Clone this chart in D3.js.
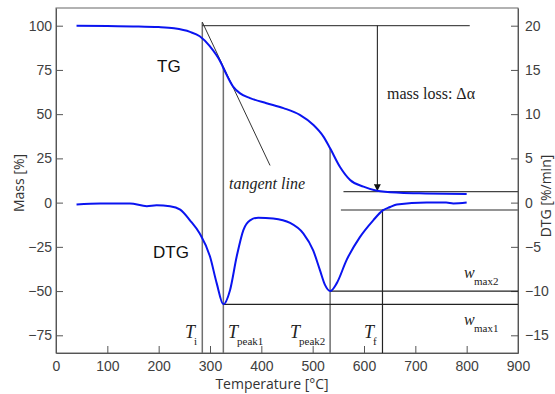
<!DOCTYPE html>
<html>
<head>
<meta charset="utf-8">
<script src="https://cdn.jsdelivr.net/npm/d3@7"></script>
<style>
  body { margin: 0; background: #fff; }
  svg { display: block; }
  .axis text { font-family: "Liberation Sans", Arial, sans-serif; font-size: 14px; fill: #404040; }
  .axis path, .axis line { stroke: #555; }
</style>
</head>
<body>
<svg id="chart"></svg>
<script>
// TG curve: temperature [°C] vs mass [%]
const tgTemp = [40, 100, 150, 200, 230, 261, 280, 300, 320, 326, 345, 358, 378, 410, 443, 475, 501, 521, 534, 553, 573, 599, 625, 670, 720, 800];
const tgMass = [100, 99.8, 99.6, 99.2, 98.5, 96.5, 94.0, 88.3, 79.8, 76.1, 65.6, 61.9, 59.1, 56.2, 53.4, 49.6, 44.0, 37.3, 30.7, 20.3, 12.8, 9.0, 6.7, 5.6, 5.2, 4.9];

// DTG curve: temperature [°C] vs rate [%/min]
const dtgTemp = [40, 86, 144, 177, 196, 222, 242, 261, 280, 300, 313, 326, 339, 352, 365, 378, 394, 423, 456, 482, 501, 514, 524, 534, 547, 566, 592, 618, 636, 651, 664, 722, 760, 774, 800];
const dtgRate = [-0.2, -0.1, -0.1, -0.4, -0.3, -0.4, -0.8, -2.0, -3.5, -6.1, -9.1, -11.5, -9.9, -6.1, -3.1, -2.0, -1.7, -1.8, -2.3, -3.5, -5.4, -7.6, -9.3, -10.0, -9.1, -6.5, -3.9, -2.0, -0.9, -0.5, -0.2, 0.0, 0.0, -0.1, 0.0];

// Tick labels
const xTicks = [0, 100, 200, 300, 400, 500, 600, 700, 800, 900];
const massTicks = [-75, -50, -25, 0, 25, 50, 75, 100];
const rateTicks = [-15, -10, -5, 0, 5, 10, 15, 20];

// Characteristic temperatures
const tI = 285, tPeak1 = 326, tPeak2 = 534, tF = 636;
const tangentTemp = [285, 417];
const tangentMass = [102, 21];
const wMax1 = -11.5, wMax2 = -10.0;
const finalMass = 6.2, finalRate = -0.84;

const width = 555, height = 394;
const svg = d3.select("#chart").attr("width", width).attr("height", height);

const x = d3.scaleLinear().domain([0, 900]).range([56, 518]);
const yL = d3.scaleLinear().domain([-85, 110]).range([353, 8]);
const yR = d3.scaleLinear().domain([-17, 22]).range([353, 8]);

// Frame
svg.append("rect")
  .attr("x", x(0)).attr("y", yL(110))
  .attr("width", x(900) - x(0)).attr("height", yL(-85) - yL(110))
  .style("fill", "none").style("stroke", "#666").style("stroke-width", 1);

// Axes
svg.append("g").attr("class", "axis")
  .attr("transform", `translate(0,${yL(-85)})`)
  .call(d3.axisBottom(x).tickValues(xTicks).tickSizeInner(-7).tickSizeOuter(0).tickPadding(8));

svg.append("g").attr("class", "axis")
  .attr("transform", `translate(${x(0)},0)`)
  .call(d3.axisLeft(yL).tickValues(massTicks).tickSizeInner(-7).tickSizeOuter(0).tickPadding(4));

svg.append("g").attr("class", "axis")
  .attr("transform", `translate(${x(900)},0)`)
  .call(d3.axisRight(yR).tickValues(rateTicks).tickSizeInner(-7).tickSizeOuter(0).tickPadding(7));

// Axis titles
const titleFont = "'Open Sans', 'Noto Sans', sans-serif";
svg.append("text")
  .attr("x", 272).attr("y", 389)
  .attr("text-anchor", "middle")
  .style("font-family", titleFont).style("font-size", "14px").style("fill", "#333")
  .text("Temperature [°C]");

svg.append("text")
  .attr("transform", "translate(24,183) rotate(-90)")
  .attr("text-anchor", "middle")
  .style("font-family", titleFont).style("font-size", "14px").style("fill", "#333")
  .text("Mass [%]");

svg.append("text")
  .attr("transform", "translate(551,196) rotate(-90)")
  .attr("text-anchor", "middle")
  .style("font-family", titleFont).style("font-size", "14px").style("fill", "#333")
  .text("DTG [%/min]");

// Helper lines
const lines = svg.append("g");
const tgAt = (t) => {
  const i = d3.bisectLeft(tgTemp, t);
  const a = Math.max(i - 1, 0), b = Math.min(i, tgTemp.length - 1);
  if (a === b) return tgMass[a];
  return tgMass[a] + (tgMass[b] - tgMass[a]) * (t - tgTemp[a]) / (tgTemp[b] - tgTemp[a]);
};

const gray = "#707070";
const vline = (t, y0, color) => lines.append("line")
  .attr("x1", x(t)).attr("x2", x(t))
  .attr("y1", y0).attr("y2", yL(-85))
  .style("stroke", color).style("stroke-width", 1.5);

vline(tI, yL(tangentMass[0]), gray);
vline(tPeak1, yL(tgAt(tPeak1)), gray);
vline(tPeak2, yL(tgAt(tPeak2)), gray);
vline(tF, yR(finalRate) - 1, "#222").style("stroke-width", 1.2);

const hline = (t0, t1, yy, color, w) => lines.append("line")
  .attr("x1", x(t0)).attr("x2", x(t1))
  .attr("y1", yy).attr("y2", yy)
  .style("stroke", color).style("stroke-width", w);

hline(tI, 806, yL(100), "#222", 1);
hline(560, 900, yL(finalMass), "#444", 1.2);
hline(555, 900, yR(finalRate), gray, 1.5);
hline(tPeak2, 900, yR(wMax2), "#222", 1.2);
hline(tPeak1, 900, yR(wMax1), "#222", 1.2);

// Tangent line
lines.append("line")
  .attr("x1", x(tangentTemp[0])).attr("y1", yL(tangentMass[0]))
  .attr("x2", x(tangentTemp[1])).attr("y2", yL(tangentMass[1]))
  .style("stroke", "#333").style("stroke-width", 1);

// Mass loss arrow
svg.append("defs").append("marker")
  .attr("id", "arrow").attr("viewBox", "0 0 10 10")
  .attr("refX", 10).attr("refY", 5)
  .attr("markerWidth", 7).attr("markerHeight", 7)
  .attr("orient", "auto")
  .append("path").attr("d", "M0,0L10,5L0,10Z").style("fill", "#111");

lines.append("line")
  .attr("x1", x(626)).attr("x2", x(626))
  .attr("y1", yL(100)).attr("y2", yL(finalMass) - 0.5)
  .style("stroke", "#111").style("stroke-width", 1)
  .attr("marker-end", "url(#arrow)");

// Curves
const line = d3.line().curve(d3.curveMonotoneX);

svg.append("path")
  .attr("d", line(tgTemp.map((t, i) => [x(t), yL(tgMass[i])])))
  .style("fill", "none").style("stroke", "#0a14f0").style("stroke-width", 2);

svg.append("path")
  .attr("d", line(dtgTemp.map((t, i) => [x(t), yR(dtgRate[i])])))
  .style("fill", "none").style("stroke", "#0a14f0").style("stroke-width", 2);

// Labels
const sans = "'Liberation Sans', Arial, sans-serif";
const serif = "'Liberation Serif', 'Times New Roman', serif";

svg.append("text").attr("x", 157).attr("y", 72)
  .style("font-family", sans).style("font-size", "17px").style("fill", "#111").text("TG");
svg.append("text").attr("x", 153).attr("y", 258)
  .style("font-family", sans).style("font-size", "17px").style("fill", "#111").text("DTG");

svg.append("text").attr("x", 229).attr("y", 189)
  .style("font-family", serif).style("font-size", "16px").style("font-style", "italic")
  .style("fill", "#222").text("tangent line");

svg.append("text").attr("x", 387).attr("y", 99)
  .style("font-family", serif).style("font-size", "16px")
  .style("fill", "#222").text("mass loss: Δα");

const tLabels = [
  { sym: "T", sub: "i", t: tI },
  { sym: "T", sub: "peak1", t: tPeak1 },
  { sym: "T", sub: "peak2", t: tPeak2 },
  { sym: "T", sub: "f", t: tF }
];
const tLabelX = [185, 228, 290, 364];

const tl = svg.selectAll("g.tlabel").data(tLabels).join("g")
  .attr("class", "tlabel")
  .attr("transform", (d, i) => `translate(${tLabelX[i]},338)`);
tl.append("text")
  .style("font-family", serif).style("font-size", "18px").style("font-style", "italic")
  .style("fill", "#222").text((d) => d.sym);
tl.append("text").attr("x", 9).attr("y", 7)
  .style("font-family", serif).style("font-size", "11px")
  .style("fill", "#222").text((d) => d.sub);

const wLabels = [
  { sub: "max2", y: 278 },
  { sub: "max1", y: 325 }
];
const wl = svg.selectAll("g.wlabel").data(wLabels).join("g")
  .attr("class", "wlabel")
  .attr("transform", (d) => `translate(464,${d.y})`);
wl.append("text")
  .style("font-family", serif).style("font-size", "16px").style("font-style", "italic")
  .style("fill", "#222").text("w");
wl.append("text").attr("x", 10).attr("y", 7)
  .style("font-family", serif).style("font-size", "11px")
  .style("fill", "#222").text((d) => d.sub);
</script>
</body>
</html>
